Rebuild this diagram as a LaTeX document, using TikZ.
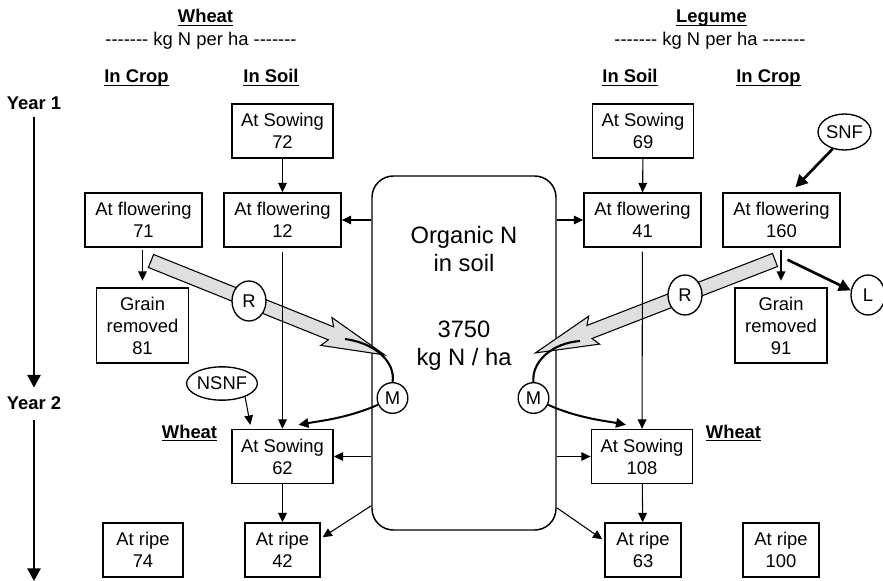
\documentclass[tikz,border=0pt]{standalone}
\usepackage{fontspec}
\setmainfont{Liberation Sans}
\newfontfamily\unitfont{Liberation Sans}
\usetikzlibrary{positioning, arrows.meta, calc, shapes.geometric}

% underline that ignores descenders
\newcommand{\uword}[1]{\setbox0\hbox{#1}\rlap{\vrule height -1.3pt depth 2.4pt width \wd0}\box0}
\newcommand{\boxfont}{\fontsize{13.8pt}{16.5pt}\selectfont}
\newcommand{\bigfont}{\fontsize{17.8pt}{21pt}\selectfont}

% broad grey transfer arrow: start, angle, length
\newcommand{\fatarrow}[3]{%
  \begin{scope}[shift={#1}, rotate=#2]
    \draw[line width=0.8pt, fill=gray!25]
      (0,-7) -- ({#3-58},-7) -- ({#3-63},-15) -- (#3,0)
      -- ({#3-63},15) -- ({#3-58},7) -- (0,7) -- cycle;
  \end{scope}}

\tikzset{
  pool/.style={draw, line width=1.1pt, align=center, inner xsep=1pt, inner ysep=1pt,
    minimum height=40.5pt, font=\boxfont},
  sowbox/.style={pool, minimum width=76pt},
  flowerbox/.style={pool, minimum width=88pt},
  grainbox/.style={pool, minimum width=69pt, minimum height=56pt},
  ripebox/.style={pool, minimum width=57pt},
  heading/.style={font=\boxfont\bfseries, anchor=base, inner sep=0pt},
  subhead/.style={font=\boxfont\unitfont, anchor=base, inner sep=0pt},
  tag/.style={draw, ellipse, line width=1pt, fill=white, inner sep=0pt, font=\boxfont,
    minimum width=25.5pt, minimum height=30pt},
  flow/.style={line width=0.8pt, -{Triangle[length=7pt,width=6.5pt]}},
  bigflow/.style={line width=2pt, -{Triangle[length=9pt,width=9pt]}},
  mflow/.style={line width=1.5pt, -{Triangle[length=7.5pt,width=7pt]}},
  yearline/.style={line width=1.5pt, -{Triangle[length=9.5pt,width=10pt]}},
}

\begin{document}
\begin{tikzpicture}[x=0.75pt, y=-0.75pt]
  \useasboundingbox (0,0) rectangle (883,581);

  % column headings
  \node[heading] (wheat) at (205.5,23) {\uword{Wheat}};
  \node[subhead] (wunit) at (201,46) {------- kg N per ha -------};
  \node[heading] (legume) at (711.5,23) {\uword{Legume}};
  \node[subhead] (lunit) at (710,46) {------- kg N per ha -------};
  \node[heading] (wcrop) at (136.5,83) {\uword{In Crop}};
  \node[heading] (wsoil) at (271,83) {\uword{In Soil}};
  \node[heading] (lsoil) at (630,83) {\uword{In Soil}};
  \node[heading] (lcrop) at (768.5,83) {\uword{In Crop}};
  \node[heading] (wnext) at (189.5,438) {\uword{Wheat}};
  \node[heading] (lnext) at (733.5,438) {\uword{Wheat}};

  % time axis
  \node[heading] (y1) at (34,110) {Year 1};
  \node[heading] (y2) at (34,410) {Year 2};
  \coordinate (yend) at (34,581);
  \draw[yearline, shorten <=5pt, shorten >=7pt] (y1.south) -- (y2.north);
  \draw[yearline, shorten <=7.5pt] (y2.south) -- (yend);

  % soil pool
  \node[draw, rounded corners=16pt, line width=1.1pt, minimum width=138pt,
    minimum height=265.5pt] (org) at (464,353) {};
  \node[font=\bigfont, align=center] (orgname) at (464,249) {Organic N\\in soil};
  \node[font=\bigfont, align=center] (orgsize) at (464,346) {3750\\kg N / ha};

  % wheat side
  \node[sowbox] (ws1) at (282.5,131) {At Sowing\\72};
  \node[flowerbox] (wcf) at (143.5,220) {At flowering\\71};
  \node[flowerbox] (wsf) at (282.5,220) {At flowering\\12};
  \node[grainbox] (wg) at (142.5,325.5) {Grain\\removed\\81};
  \node[sowbox] (ws2) at (282.5,456.5) {At Sowing\\62};
  \node[ripebox, minimum width=60pt] (wr1) at (143,550) {At ripe\\74};
  \node[ripebox, minimum width=56pt] (wr2) at (282.5,550) {At ripe\\42};

  % legume side
  \node[sowbox] (ls1) at (643,131) {At Sowing\\69};
  \node[flowerbox] (lsf) at (642.5,220) {At flowering\\41};
  \node[flowerbox] (lcf) at (781.5,220) {At flowering\\160};
  \node[grainbox] (lg) at (781,325.5) {Grain\\removed\\91};
  \node[sowbox] (ls2) at (642,456.5) {At Sowing\\108};
  \node[ripebox] (lr2) at (643,550) {At ripe\\63};
  \node[ripebox] (lr1) at (781,550) {At ripe\\100};

  % residues back to the soil
  \fatarrow{(151,261)}{-21.9}{252}
  \fatarrow{(775,260)}{-158.8}{257}
  \node[tag] (rw) at (249,301) {R};
  \node[tag] (rl) at (685,295) {R};

  % inputs and losses
  \node[tag, minimum width=49.5pt, minimum height=25pt] (nsnf) at (222,383.5) {NSNF};
  \node[tag, minimum width=39.75pt, minimum height=27pt] (snf) at (844.5,132) {SNF};
  \node[tag] (lost) at (868,295) {L};

  % mineralisation
  \coordinate (cw) at (345,339);
  \coordinate (cl) at (580,341);
  \draw[line width=1.6pt] (cw) .. controls (375,343) and (396,362) .. (392.5,382.5);
  \draw[line width=1.6pt] (cl) .. controls (552,343) and (531,362) .. (533.5,382.5);
  \node[tag, circle, minimum size=23pt] (mw) at (392.5,398) {M};
  \node[tag, circle, minimum size=23pt] (ml) at (533.5,398) {M};
  \draw[mflow] (mw.205) .. controls (348,418) and (320,421) .. ($(ws2.north)+(16,-4)$);
  \draw[mflow] (ml.-25) .. controls (577,418) and (606,421) .. ($(ls2.north)+(-16,-4)$);

  % flows between pools
  \draw[flow] (ws1) -- (wsf);
  \draw[flow] (ls1) -- (lsf);
  \draw[flow, shorten <=3pt] (wsf) -- (ws2);
  \draw[flow, shorten <=3pt] (lsf) -- (ls2);
  \draw[flow] (ws2) -- (wr2);
  \draw[flow] (ls2) -- (lr2);
  \draw[flow, shorten <=2pt, shorten >=5pt] (wg.north |- wcf.south) -- (wg.north);
  \draw[flow, shorten <=2pt, shorten >=5pt] (lg.north |- lcf.south) -- (lg.north);
  \draw[flow] (org.west |- wsf.east) -- (wsf.east);
  \draw[flow] (org.east |- lsf.west) -- (lsf.west);
  \draw[flow] (org.west |- ws2.east) -- (ws2.east);
  \draw[flow] (org.east |- ls2.west) -- (ls2.west);
  \draw[flow] ($(org.south west)+(0,-25)$) -- ($(wr2.north east)+(2,15)$);
  \draw[flow] ($(org.south east)+(0,-23)$) -- ($(lr2.north west)+(-2,17)$);
  \draw[flow, shorten >=3pt] (nsnf.330) -- ($(ws2.north west)+(20,0)$);
  \draw[bigflow] (snf.235) -- ($(lcf.north)+(14,-5)$);
  \draw[bigflow] ($(lcf.south)+(6,12)$) -- (lost.165);
\end{tikzpicture}
\end{document}
